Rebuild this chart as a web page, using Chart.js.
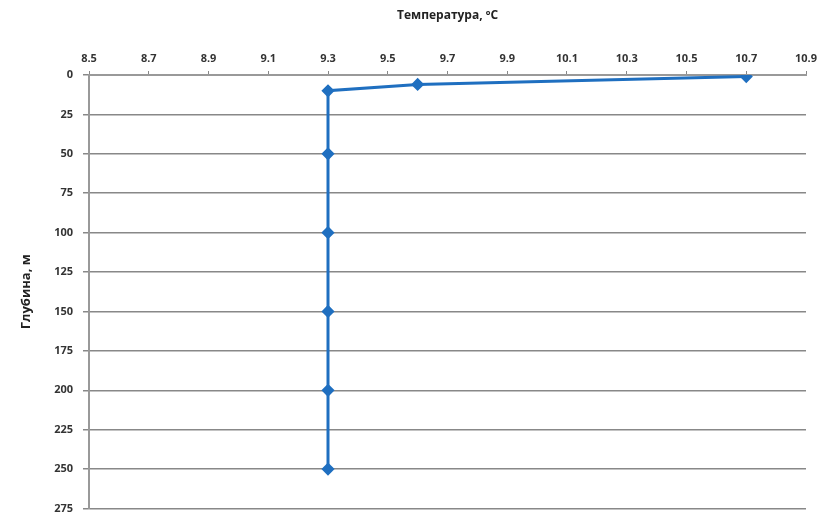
<!DOCTYPE html>
<html>
<head>
<meta charset="utf-8">
<script src="https://cdn.jsdelivr.net/npm/chart.js@4"></script>
<style>
  html, body { margin: 0; padding: 0; background: #fff; }
  #wrap { width: 821px; height: 516px; }
</style>
</head>
<body>
<div id="wrap"><canvas id="profile"></canvas></div>
<script>
// Temperature profile by depth
const temperature = [10.7, 9.6, 9.3, 9.3, 9.3, 9.3, 9.3, 9.3];
const depth = [1, 6, 10, 50, 100, 150, 200, 250];
const xTitle = 'Температура, ºС';
const yTitle = 'Глубина, м';

const points = temperature.map((t, i) => ({ x: t, y: depth[i] }));

const tickFont = { family: 'Open Sans', size: 11, weight: 'bold' };

new Chart(document.getElementById('profile'), {
  type: 'scatter',
  data: {
    datasets: [{
      data: points,
      showLine: true,
      borderColor: '#1f6fc0',
      backgroundColor: '#1f6fc0',
      borderWidth: 3,
      pointStyle: 'rectRot',
      pointRadius: 4.5,
      tension: 0
    }]
  },
  options: {
    responsive: true,
    maintainAspectRatio: false,
    animation: false,
    layout: { padding: { left: 18, right: 15, top: 0, bottom: 5 } },
    plugins: { legend: { display: false }, tooltip: { enabled: false } },
    scales: {
      x: {
        type: 'linear',
        position: 'top',
        min: 8.5,
        max: 10.9,
        ticks: {
          stepSize: 0.2,
          color: '#333',
          font: tickFont,
          padding: 6,
          callback: v => v.toFixed(1)
        },
        grid: { drawOnChartArea: false, color: '#888', tickLength: 4 },
        border: { color: '#999', width: 2 },
        title: {
          display: true,
          text: xTitle,
          color: '#222',
          font: { family: 'Open Sans', size: 12, weight: 'bold' },
          padding: { top: 8, bottom: 10 }
        },
        afterFit: s => { s.height = 75; s.paddingRight = 0; s.paddingLeft = 0; }
      },
      y: {
        type: 'linear',
        reverse: true,
        min: 0,
        max: 275,
        ticks: { stepSize: 25, color: '#333', font: tickFont, padding: 10 },
        grid: { color: '#888', lineWidth: 1.5, tickLength: 6 },
        border: { color: '#999', width: 2 },
        title: {
          display: true,
          text: yTitle,
          color: '#222',
          font: { family: 'Open Sans', size: 13, weight: 'bold' },
          padding: { top: 0, bottom: 10 }
        },
        afterFit: s => { s.width = 71; s.paddingBottom = 0; s.paddingTop = 0; }
      }
    }
  }
});
</script>
</body>
</html>
